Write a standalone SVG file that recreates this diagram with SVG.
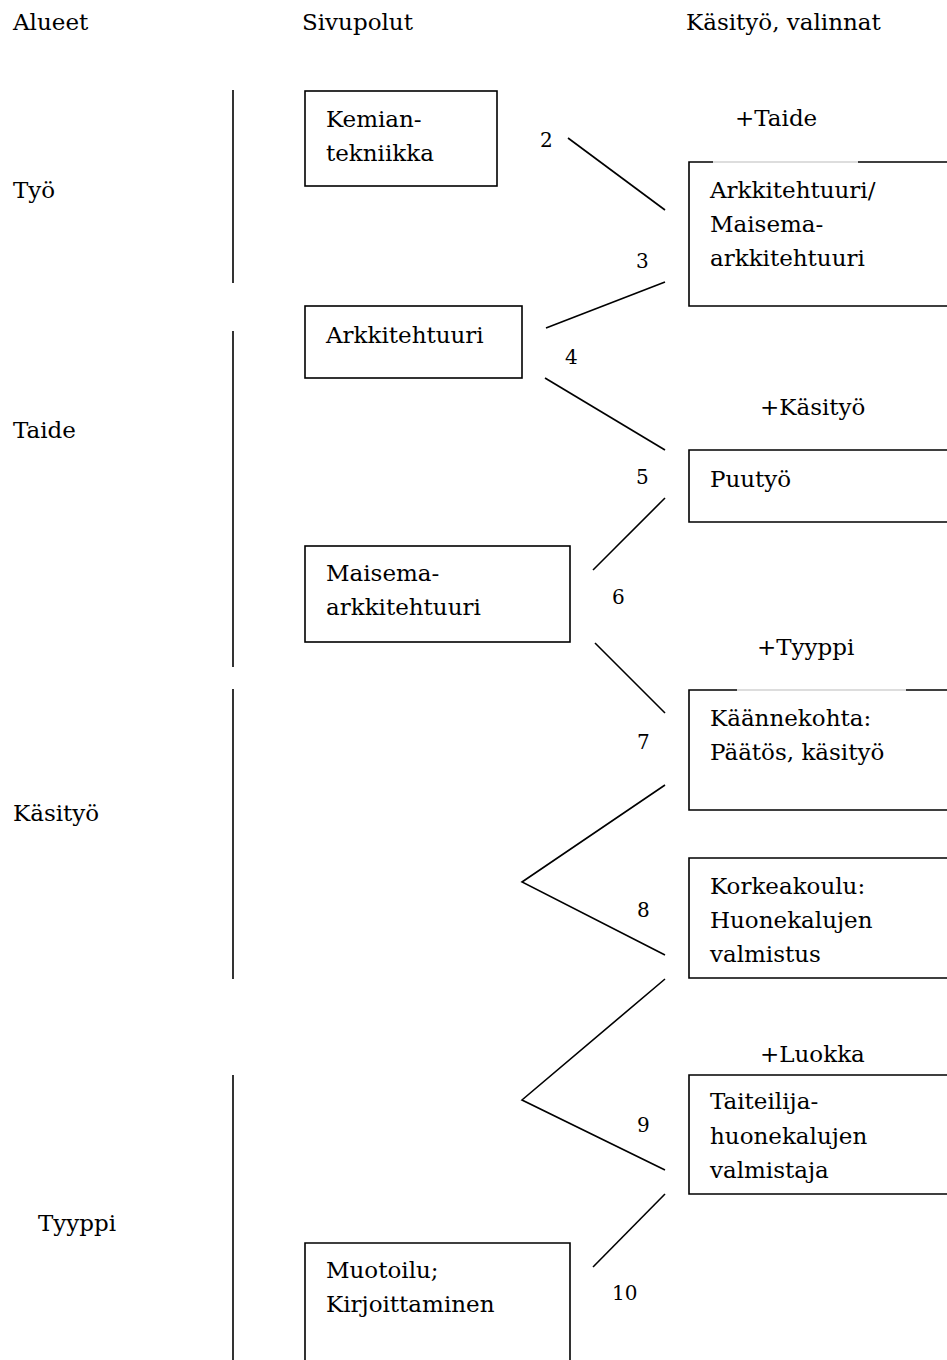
<svg xmlns="http://www.w3.org/2000/svg" width="947" height="1360" viewBox="0 0 947 1360">
<style>
text{font-family:"DejaVu Serif",serif;fill:#000}
.t{font-size:23px}
.n{font-size:20px}
.box{fill:#fff;stroke:#000;stroke-width:1.6}
.ln{stroke:#000;stroke-width:1.6;fill:none}
.lt{stroke:#bbb;stroke-width:1;fill:none}
</style>
<rect width="947" height="1360" fill="#fff"/>
<g id="headers">
<text class="t" x="13" y="29.5">Alueet</text>
<text class="t" x="302" y="29.5">Sivupolut</text>
<text class="t" x="686" y="29.5">Käsityö, valinnat</text>
</g>
<g id="areas">
<line class="ln" x1="233" y1="90" x2="233" y2="283"/>
<line class="ln" x1="233" y1="331" x2="233" y2="667"/>
<line class="ln" x1="233" y1="689" x2="233" y2="979"/>
<line class="ln" x1="233" y1="1075" x2="233" y2="1360"/>
<text class="t" x="13" y="198">Työ</text>
<text class="t" x="13" y="438">Taide</text>
<text class="t" x="13" y="821">Käsityö</text>
<text class="t" x="38" y="1231">Tyyppi</text>
</g>
<g id="kemian">
<rect class="box" x="305" y="91" width="192" height="95"/>
<text class="t" x="326" y="127">Kemian-</text>
<text class="t" x="326" y="161">tekniikka</text>
</g>
<g id="arkkitehtuuri">
<rect class="box" x="305" y="306" width="217" height="72"/>
<text class="t" x="326" y="343">Arkkitehtuuri</text>
</g>
<g id="maisema">
<rect class="box" x="305" y="546" width="265" height="96"/>
<text class="t" x="326" y="581">Maisema-</text>
<text class="t" x="326" y="615">arkkitehtuuri</text>
</g>
<g id="muotoilu">
<path class="ln" d="M305,1370 V1243 H570 V1370"/>
<text class="t" x="326" y="1278">Muotoilu;</text>
<text class="t" x="326" y="1312">Kirjoittaminen</text>
</g>
<g id="ark-mais">
<text class="t" x="735" y="126">+Taide</text>
<path class="ln" d="M955,162 H858 M713,162 H689 V306 H955"/>
<line class="lt" x1="713" y1="162" x2="858" y2="162"/>
<text class="t" x="710" y="198">Arkkitehtuuri/</text>
<text class="t" x="710" y="232">Maisema-</text>
<text class="t" x="710" y="266">arkkitehtuuri</text>
</g>
<g id="puutyo">
<text class="t" x="760" y="415">+Käsityö</text>
<path class="ln" d="M955,450 H689 V522 H955"/>
<text class="t" x="710" y="487">Puutyö</text>
</g>
<g id="kaannekohta">
<text class="t" x="757" y="655">+Tyyppi</text>
<path class="ln" d="M955,690 H906 M737,690 H689 V810 H955"/>
<line class="lt" x1="737" y1="690" x2="906" y2="690"/>
<text class="t" x="710" y="726">Käännekohta:</text>
<text class="t" x="710" y="760">Päätös, käsityö</text>
</g>
<g id="korkeakoulu">
<path class="ln" d="M955,858 H689 V978 H955"/>
<text class="t" x="710" y="894">Korkeakoulu:</text>
<text class="t" x="710" y="928">Huonekalujen</text>
<text class="t" x="710" y="962">valmistus</text>
</g>
<g id="taiteilija">
<text class="t" x="760" y="1062">+Luokka</text>
<path class="ln" d="M955,1075 H689 V1194 H955"/>
<text class="t" x="710" y="1109">Taiteilija-</text>
<text class="t" x="710" y="1144">huonekalujen</text>
<text class="t" x="710" y="1178">valmistaja</text>
</g>
<g id="connectors">
<line class="ln" x1="568" y1="138" x2="665" y2="210"/>
<line class="ln" x1="546" y1="328" x2="665" y2="282"/>
<line class="ln" x1="545" y1="378" x2="665" y2="450"/>
<line class="ln" x1="593" y1="570" x2="665" y2="498"/>
<line class="ln" x1="595" y1="643" x2="665" y2="713"/>
<polyline class="ln" points="665,785 522,882 665,955"/>
<polyline class="ln" points="665,979 522,1100 665,1170"/>
<line class="ln" x1="665" y1="1194" x2="593" y2="1267"/>
<text class="n" x="540" y="147">2</text>
<text class="n" x="636" y="268">3</text>
<text class="n" x="565" y="364">4</text>
<text class="n" x="636" y="484">5</text>
<text class="n" x="612" y="604">6</text>
<text class="n" x="637" y="749">7</text>
<text class="n" x="637" y="917">8</text>
<text class="n" x="637" y="1132">9</text>
<text class="n" x="612" y="1300">10</text>
</g>
</svg>
